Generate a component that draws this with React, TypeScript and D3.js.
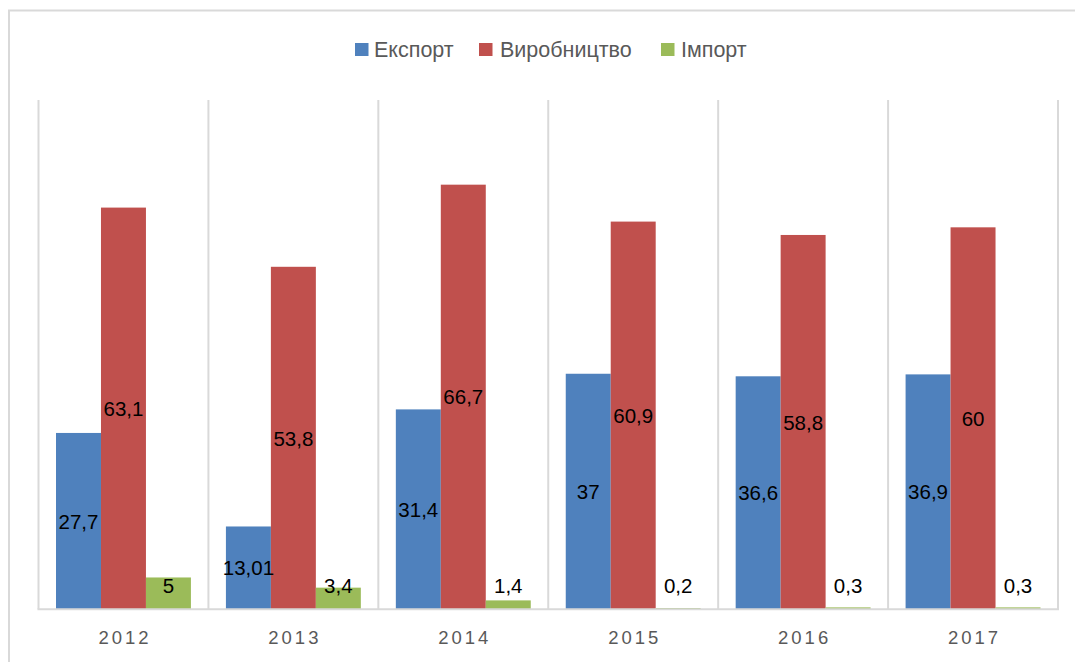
import React from "react";
import * as d3 from "d3";

const years = ["2012", "2013", "2014", "2015", "2016", "2017"];
const seriesNames = ["Експорт", "Виробництво", "Імпорт"];
const seriesColors = ["#4F81BD", "#C0504D", "#9BBB59"];
const exportValues = [27.7, 13.01, 31.4, 37, 36.6, 36.9];
const productionValues = [63.1, 53.8, 66.7, 60.9, 58.8, 60];
const importValues = [5, 3.4, 1.4, 0.2, 0.3, 0.3];
const yDomain = [0, 80];

const W = 1075;
const H = 662;
const plotLeft = 38.5;
const plotRight = 1058;
const plotTop = 100;
const plotBottom = 609.3;
const font = "'Liberation Sans', Arial, sans-serif";

const legendLayout = [
  { sq: 355, tx: 374 },
  { sq: 479, tx: 500 },
  { sq: 661, tx: 681 },
];

export default function App() {
  const seriesValues = [exportValues, productionValues, importValues];
  const x0 = d3.scaleBand<string>().domain(years).range([plotLeft, plotRight]).padding(0);
  const bw = x0.bandwidth();
  const gap = bw * 0.103;
  const x1 = d3
    .scaleBand<string>()
    .domain(seriesNames)
    .range([gap, bw - gap])
    .padding(0);
  const y = d3.scaleLinear().domain(yDomain).range([plotBottom, plotTop]);
  const fmt = (v: number) => String(v).replace(".", ",");

  return (
    <svg
      width={W}
      height={H}
      style={{ position: "absolute", left: 0, top: 0, background: "#fff" }}
    >
      <rect x={9} y={10.5} width={1200} height={800} fill="#fff" stroke="#D9D9D9" strokeWidth={2} />
      {/* legend */}
      {seriesNames.map((s, i) => (
        <g key={s}>
          <rect x={legendLayout[i].sq} y={43} width={13.5} height={13} fill={seriesColors[i]} />
          <text
            x={legendLayout[i].tx}
            y={56.5}
            fontFamily={font}
            fontSize={21.5}
            fill="#595959"
          >
            {s}
          </text>
        </g>
      ))}
      {/* vertical gridlines */}
      {years.concat(["end"]).map((yr, i) => {
        const gx = i < years.length ? (x0(yr) as number) : plotRight;
        return (
          <line
            key={"g" + i}
            x1={gx}
            x2={gx}
            y1={plotTop}
            y2={plotBottom}
            stroke="#D9D9D9"
            strokeWidth={2}
          />
        );
      })}
      {/* bars */}
      {years.map((yr, yi) =>
        seriesNames.map((s, si) => {
          const v = seriesValues[si][yi];
          const bx = (x0(yr) as number) + (x1(s) as number);
          const by = y(v);
          return (
            <rect
              key={yr + s}
              x={bx}
              y={by}
              width={x1.bandwidth()}
              height={plotBottom - by}
              fill={seriesColors[si]}
            />
          );
        })
      )}
      {/* baseline */}
      <line x1={plotLeft - 1} x2={plotRight + 1} y1={plotBottom} y2={plotBottom} stroke="#D9D9D9" strokeWidth={2} />
      {/* labels */}
      {years.map((yr, yi) =>
        seriesNames.map((s, si) => {
          const v = seriesValues[si][yi];
          const bx = (x0(yr) as number) + (x1(s) as number) + x1.bandwidth() / 2;
          const cy = Math.min((y(v) + plotBottom) / 2, plotBottom - 24);
          return (
            <text
              key={"l" + yr + s}
              x={bx}
              y={cy}
              textAnchor="middle"
              dominantBaseline="central"
              fontFamily={font}
              fontSize={20.5}
              fill="#000"
            >
              {fmt(v)}
            </text>
          );
        })
      )}
      {/* x axis labels */}
      {years.map((yr) => (
        <text
          key={"x" + yr}
          x={(x0(yr) as number) + bw / 2 + 1.5}
          y={644}
          textAnchor="middle"
          fontFamily={font}
          fontSize={18.5}
          letterSpacing={3}
          fill="#595959"
        >
          {yr}
        </text>
      ))}
    </svg>
  );
}
